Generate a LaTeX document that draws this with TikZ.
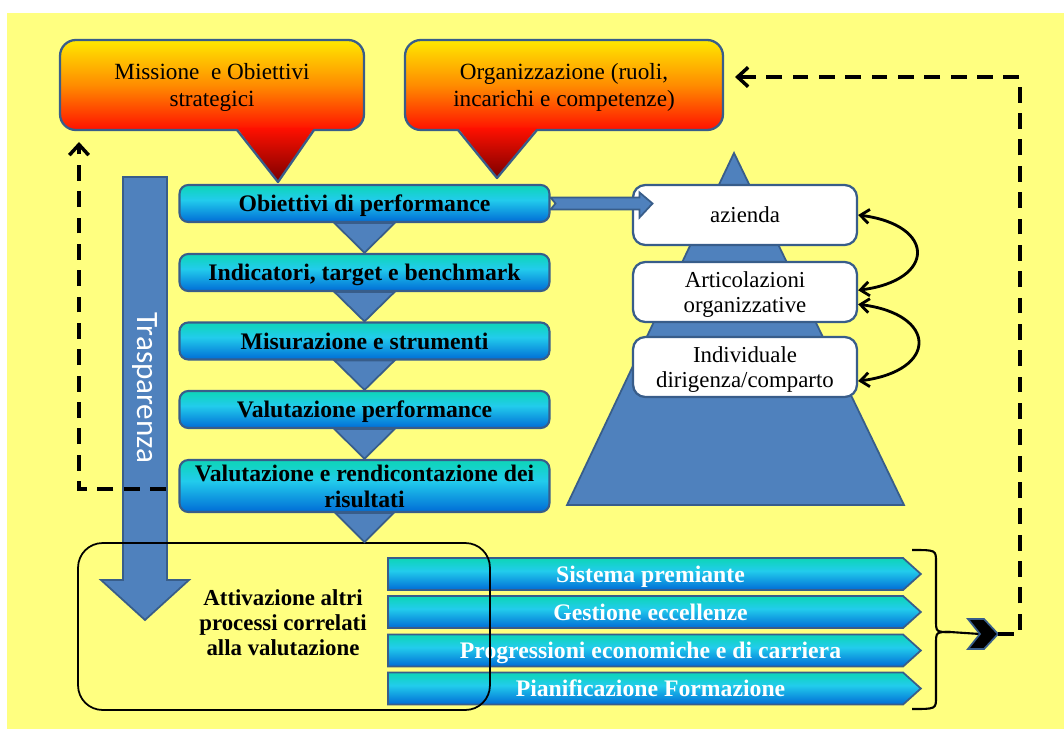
\documentclass[tikz,border=0pt]{standalone}
\usepackage{fontspec}
\setmainfont{Liberation Serif}
\newfontfamily\calibfont{Carlito}
\usetikzlibrary{arrows.meta,shapes.symbols}

\definecolor{bgyellow}{RGB}{255,255,128}
\definecolor{steel}{RGB}{79,129,189}
\definecolor{steeldark}{RGB}{56,93,138}
\definecolor{tealtop}{RGB}{16,212,190}
\definecolor{cyanmid}{RGB}{34,204,236}
\definecolor{bluebot}{RGB}{0,108,214}
\definecolor{cyellow}{RGB}{255,232,0}
\definecolor{corange}{RGB}{255,140,0}
\definecolor{cred}{RGB}{255,16,0}
\definecolor{cdark}{RGB}{122,0,0}

\pgfdeclareverticalshading{flowshade}{100bp}{color(0bp)=(bluebot); color(25bp)=(bluebot); color(55bp)=(cyanmid); color(72bp)=(tealtop); color(100bp)=(tealtop)}
\pgfdeclareverticalshading{calloutshade}{100bp}{color(0bp)=(cred); color(25bp)=(cred); color(50bp)=(corange); color(75bp)=(cyellow); color(100bp)=(cyellow)}

\tikzset{
	flowbox/.style={draw=steeldark, line width=1.2pt, rounded corners=5pt, shade, shading=flowshade, minimum width=7.4cm, minimum height=0.74cm, inner sep=2pt, text depth=0pt, align=center, font=\bfseries\fontsize{13.5}{14.7}\selectfont},
	callbody/.style={draw=steeldark, line width=1.3pt, rounded corners=9pt, shade, shading=calloutshade, minimum height=1.8cm, text depth=0pt, align=center, font=\fontsize{13.2}{15.3}\selectfont},
	levelbox/.style={draw=steeldark, fill=white, line width=1.3pt, rounded corners=7pt, minimum width=4.48cm, minimum height=1.2cm, inner sep=2pt, text depth=0pt, align=center, font=\fontsize{13}{14.5}\selectfont},
	premio/.style={signal, signal to=east, signal pointer angle=84, draw=steeldark, line width=1pt, shade, shading=flowshade, minimum width=10.66cm, minimum height=0.64cm, inner sep=1pt, text depth=0pt, text=white, font=\bfseries\fontsize{13.5}{14}\selectfont, execute at begin node=\hspace{0.2cm}},
	blockfill/.style={fill=steel, draw=steeldark, line width=1pt},
	loopline/.style={line width=2pt, dash pattern=on 9pt off 6pt, -{Straight Barb[length=6pt,width=11pt]}},
	levelarrow/.style={line width=1.6pt, {Straight Barb[length=5pt,width=8pt]}-{Straight Barb[length=5pt,width=8pt]}}
}

\begin{document}
\begin{tikzpicture}[x=0.02cm,y=-0.02cm]
	\useasboundingbox (0,0) rectangle (1064,729);
	% Background
	\fill[bgyellow] (7,13) rectangle (1064,729);

	% Callouts
	\node[callbody, minimum width=6.08cm] (miss) at (212,85) {Missione\ \ e Obiettivi\\strategici};
	\shade[top color=cred, bottom color=cdark] (237,128) -- (314,128) -- (278,182) -- cycle;
	\draw[steeldark, line width=1.3pt, line join=round] (237,130) -- (278,182) -- (314,130);
	\node[callbody, minimum width=6.36cm] (org) at (564,85) {Organizzazione (ruoli,\\incarichi e competenze)};
	\shade[top color=cred, bottom color=cdark] (458,128) -- (537,128) -- (497,178) -- cycle;
	\draw[steeldark, line width=1.3pt, line join=round] (458,130) -- (497,178) -- (537,130);

	% Trasparenza
	\draw[blockfill] (123,177) -- (167,177) -- (167,580) -- (189,580) -- (145,620) -- (101,580) -- (123,580) -- cycle;
	\node[rotate=-90, text=white, font=\calibfont\fontsize{17.7}{20}\selectfont] (trasp) at (145,388) {Trasparenza};

	% Pyramid
	\draw[blockfill] (734,153) -- (904,505) -- (567,505) -- cycle;
	\node[levelbox] (azienda) at (745,215) {azienda};
	\node[levelbox] (artic) at (745,292) {Articolazioni\\organizzative};
	\node[levelbox] (indiv) at (745,367) {Individuale\\dirigenza/comparto};
	\draw[levelarrow] (azienda.east) .. controls +(78,10) and +(78,-10) .. ([yshift=1pt]artic.east);
	\draw[levelarrow] ([yshift=-7pt]artic.east) .. controls +(80,10) and +(80,-10) .. ([yshift=-8pt]indiv.east);

	% Performance cycle
	\node[flowbox] (obiettivi) at (364.5,203.5) {Obiettivi di performance};
	\node[flowbox] (indicatori) at (364.5,272.5) {Indicatori, target e benchmark};
	\node[flowbox] (misura) at (364.5,341) {Misurazione e strumenti};
	\node[flowbox] (valperf) at (364.5,409.5) {Valutazione performance};
	\node[flowbox, minimum height=1.04cm] (valris) at (364.5,486) {Valutazione e rendicontazione dei\\risultati};
	\foreach \a/\b in {obiettivi/indicatori, indicatori/misura, misura/valperf, valperf/valris}
		\draw[blockfill] (\a.south) ++(-30,0) -- ++(60,0) -- (\b.north) -- cycle;
	\draw[blockfill] (obiettivi.east) ++(0,-6) -- ++(89,0) -- ++(0,-5) -- ++(13,11) -- ++(-13,14) -- ++(0,-8) -- ++(-89,0) -- ++(5,-6) -- cycle;

	% Other processes
	\node[premio] (premiante) at (645.5,574) {Sistema premiante};
	\node[premio] (eccellenze) at (645.5,612) {Gestione eccellenze};
	\node[premio] (progressioni) at (645.5,650.5) {Progressioni economiche e di carriera};
	\node[premio] (formazione) at (645.5,688.5) {Pianificazione Formazione};
	\node[draw, line width=1pt, rounded corners=14pt, minimum width=8.24cm, minimum height=3.34cm] (altri) at (284,626.5) {};
	\node[align=center, font=\bfseries\fontsize{13}{14.2}\selectfont] (altritxt) at (283,623) {Attivazione altri\\processi correlati\\alla valutazione};
	\draw[blockfill] (valris.south) ++(-29,0) -- ++(58,0) -- (valris.south |- altri.north) -- cycle;

	% Brace and chevron
	\coordinate (chevnotch) at (980,634);
	\coordinate (chevtip) at (998,634);
	\draw[line width=1.2pt] (912,550) .. controls (936,550) .. (936,562) -- (936,620) .. controls (936,632) .. (950,632) -- (chevnotch);
	\draw[line width=1.2pt] (950,632) .. controls (936,632) .. (936,644) -- (936,697) .. controls (936,709) .. (912,709);
	\fill[black, draw=steeldark, line width=1pt] (968,619) -- (984,619) -- (chevtip) -- (984,649) -- (968,649) -- (chevnotch) -- cycle;

	% Feedback loops
	\coordinate (ltail) at (166,489);
	\coordinate (ltip) at (79,142);
	\draw[loopline] (ltail) -| (ltip);
	\coordinate (rturn) at (1020,77);
	\coordinate (rtip) at (735,77);
	\draw[loopline] (chevtip) -| (rturn) -- (rtip);
\end{tikzpicture}
\end{document}
